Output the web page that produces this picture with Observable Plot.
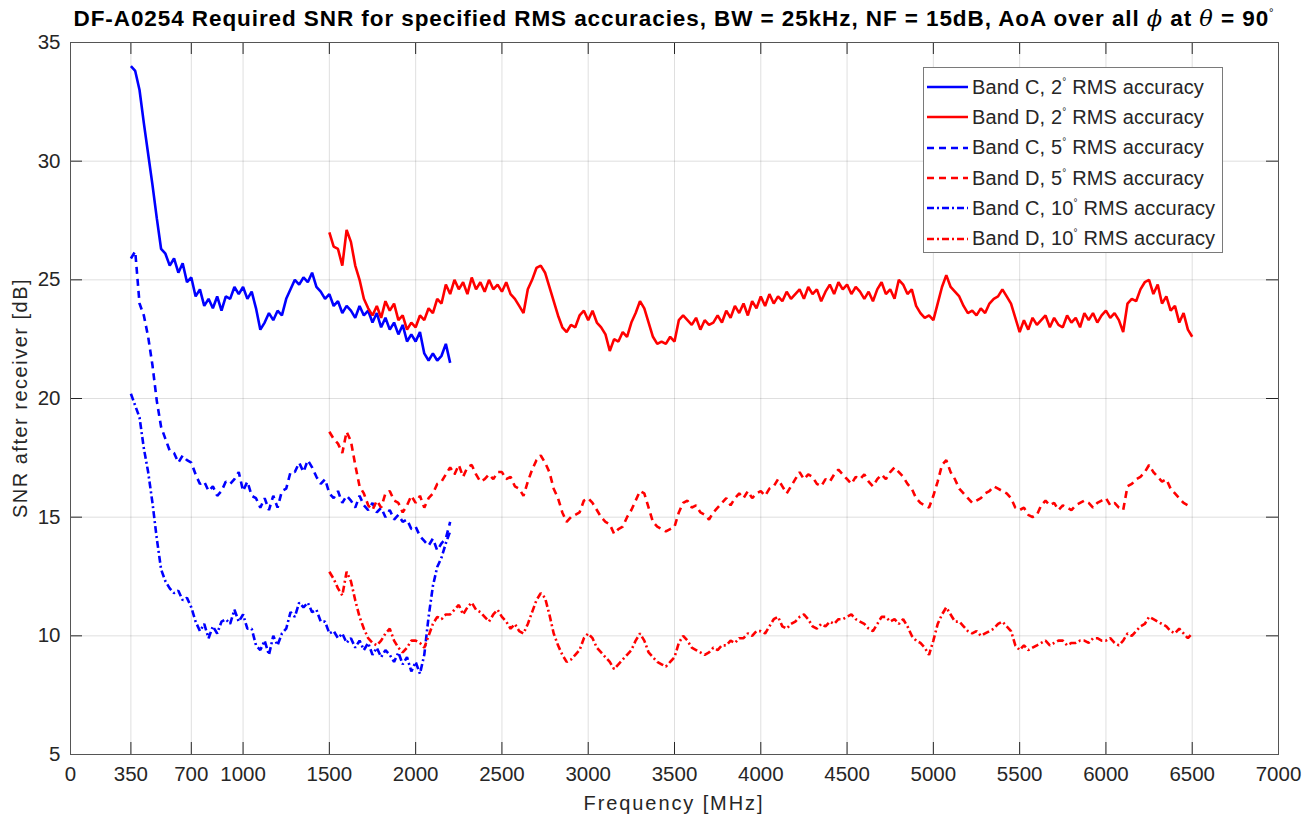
<!DOCTYPE html>
<html>
<head>
<meta charset="utf-8">
<script src="https://cdn.jsdelivr.net/npm/d3@7"></script>
<script src="https://cdn.jsdelivr.net/npm/@observablehq/plot@0.6"></script>
<style>
  body { margin: 0; background: #fff; }
  #wrap { position: relative; width: 1309px; height: 819px; background: #fff; font-family: "Liberation Sans", Arial, sans-serif; color: #262626; overflow: hidden; }
  #title { position: absolute; left: 70px; width: 1208px; top: 5px; text-align: center; font-weight: bold; font-size: 22.5px; letter-spacing: 0.92px; color: #000; white-space: nowrap; }
  #title i { font-family: "DejaVu Serif", "Liberation Serif", serif; font-weight: normal; font-style: italic; }
  #title sup, #legend sup { font-size: 0.5em; vertical-align: 0.9em; font-weight: normal; }
  #chart { position: absolute; left: 0; top: 32px; }
  #ylabel { position: absolute; left: 20px; top: 398px; transform: translate(-50%, -50%) rotate(-90deg); font-size: 20px; letter-spacing: 1.5px; white-space: nowrap; }
  #xlabel { position: absolute; left: 674px; top: 803px; transform: translate(-50%, -50%); font-size: 20px; letter-spacing: 1.9px; white-space: nowrap; }
  #legend { position: absolute; left: 923px; top: 67px; width: 300px; height: 186px; border: 1px solid #7a7a7a; background: #fff; box-sizing: border-box; padding-top: 4px; }
  .row { height: 30.3px; display: flex; align-items: center; font-size: 20px; letter-spacing: 0.15px; white-space: nowrap; }
  .row svg { margin-left: 3px; margin-right: 4px; flex: none; }
</style>
</head>
<body>
<div id="wrap">
  <div id="title">DF-A0254 Required SNR for specified RMS accuracies, BW = 25kHz, NF = 15dB, AoA over all <i>ϕ</i> at <i>θ</i> = 90<sup>°</sup></div>
  <div id="chart"></div>
  <div id="ylabel">SNR after receiver [dB]</div>
  <div id="xlabel">Frequency [MHz]</div>
  <div id="legend"></div>
</div>
<script>
// ---- tick labels ----
const xTicks = [0, 350, 700, 1000, 1500, 2000, 2500, 3000, 3500, 4000, 4500, 5000, 5500, 6000, 6500, 7000];
const yTicks = [5, 10, 15, 20, 25, 30, 35];

// ---- frequency grids (MHz) ----
const freqC = d3.range(350, 2201, 25);   // Band C: 350 .. 2200
const freqD = d3.range(1500, 6501, 25);  // Band D: 1500 .. 6500

// ---- Band C series (dB) ----
const bandC2 = [
  34.0,33.8,33.0,31.6,30.3,29.0,27.6,26.3,26.1,25.6,25.9,25.3,25.7,24.9,25.1,24.3,24.6,23.9,24.2,23.8,
  24.3,23.7,24.3,24.2,24.7,24.4,24.7,24.2,24.5,23.8,22.9,23.2,23.6,23.3,23.7,23.5,24.2,24.6,25.0,24.8,
  25.1,24.9,25.3,24.7,24.5,24.2,24.4,23.9,24.1,23.6,23.9,23.7,23.4,23.9,23.5,23.7,23.2,23.6,23.0,23.4,
  22.9,23.2,22.7,23.1,22.4,22.7,22.4,22.8,21.9,21.6,21.9,21.6,21.8,22.3,21.5
];
const bandC5 = [
  25.9,26.2,24.0,23.5,22.6,21.4,19.9,18.8,18.3,17.8,17.7,17.3,17.6,17.4,17.3,16.8,16.4,16.5,16.1,16.3,
  15.9,16.1,16.5,16.4,16.6,16.9,16.1,16.5,15.9,15.8,15.4,15.8,15.3,15.9,15.4,16.1,16.2,16.9,16.9,17.3,
  16.9,17.4,17.1,16.7,16.4,16.6,16.0,15.8,16.1,15.6,15.9,15.7,15.4,15.9,15.5,15.3,15.6,15.2,15.4,15.0,
  15.3,14.9,15.1,14.8,14.9,14.5,14.6,14.2,14.0,13.8,14.1,13.6,13.9,14.1,14.8
];
const bandC10 = [
  20.2,19.7,19.2,17.9,16.9,15.6,14.1,12.8,12.3,12.0,11.8,11.9,11.5,11.6,11.2,10.6,10.2,10.5,9.9,10.4,
  10.1,10.6,10.7,10.5,11.1,10.6,10.9,10.3,10.3,9.6,9.4,9.8,9.2,10.0,9.6,10.1,10.3,11.0,10.8,11.4,
  11.2,11.4,11.0,11.1,10.6,10.6,10.1,10.2,9.9,10.1,9.7,9.9,9.5,9.8,9.4,9.7,9.2,9.5,9.1,9.4,
  9.2,8.9,9.3,8.8,9.1,8.5,8.9,8.4,9.2,10.8,12.1,12.9,13.3,13.9,14.4
];

// ---- Band D series (dB) ----
const bandD2 = [
  27.0,26.4,26.3,25.6,27.1,26.6,25.6,25.0,24.2,23.8,23.5,23.9,23.4,24.1,23.7,24.0,23.3,23.5,22.9,23.2,
  23.0,23.5,23.3,23.8,23.6,24.2,24.0,24.8,24.4,25.0,24.6,24.9,24.4,25.1,24.6,24.9,24.5,25.0,24.6,24.8,
  24.5,24.9,24.4,24.2,23.9,23.6,24.6,25.0,25.5,25.6,25.3,24.7,24.1,23.5,23.0,22.8,23.1,23.0,23.5,23.7,
  23.3,23.7,23.2,23.0,22.7,22.0,22.5,22.4,22.8,22.6,23.2,23.6,24.1,23.8,23.2,22.6,22.3,22.4,22.3,22.6,
  22.4,23.3,23.5,23.3,23.1,23.4,22.9,23.3,23.1,23.2,23.5,23.2,23.7,23.4,23.9,23.6,24.0,23.5,24.1,23.8,
  24.3,23.9,24.4,24.0,24.3,24.1,24.5,24.2,24.4,24.6,24.2,24.7,24.4,24.6,24.1,24.5,24.8,24.4,24.9,24.6,
  24.8,24.4,24.7,24.5,24.2,24.5,24.1,24.6,24.9,24.4,24.6,24.2,25.0,24.8,24.4,24.6,23.9,23.6,23.4,23.5,
  23.3,24.0,24.7,25.2,24.7,24.5,24.3,23.9,23.6,23.7,23.5,23.8,23.6,24.0,24.2,24.3,24.6,24.3,24.0,23.4,
  22.8,23.3,22.9,23.4,23.1,23.3,23.5,23.0,23.4,23.1,23.0,23.5,23.2,23.4,23.0,23.6,23.3,23.6,23.2,23.5,
  23.7,23.4,23.6,23.3,22.8,24.0,24.2,24.1,24.6,24.9,25.0,24.4,24.8,24.0,24.3,23.7,23.9,23.2,23.6,22.9,
  22.6
];
const bandD5 = [
  18.6,18.3,18.1,17.7,18.6,18.2,17.2,16.3,16.0,15.5,15.3,15.7,15.4,16.0,16.1,15.7,15.6,15.2,15.5,15.9,
  15.6,15.9,15.4,15.8,16.0,16.4,16.5,16.8,17.1,16.8,17.2,16.7,17.1,17.2,16.8,16.5,16.6,16.8,16.6,16.9,
  16.9,16.6,16.7,16.3,16.2,15.9,16.5,17.0,17.4,17.6,17.3,16.9,16.2,15.8,15.2,14.8,15.0,15.1,15.2,15.7,
  15.8,15.6,15.3,15.0,14.8,14.7,14.3,14.5,14.6,15.0,15.3,15.7,16.1,16.0,15.4,14.8,14.6,14.5,14.4,14.5,
  14.6,15.2,15.6,15.7,15.4,15.5,15.2,15.1,14.9,15.2,15.4,15.6,15.8,15.5,15.8,16.0,15.8,16.1,15.8,16.0,
  16.1,15.9,16.2,16.3,16.6,16.3,16.0,16.3,16.6,16.9,16.6,16.8,16.7,16.4,16.3,16.6,16.5,16.8,17.0,16.8,
  16.6,16.4,16.7,16.6,16.8,16.5,16.3,16.6,16.8,16.6,16.9,17.1,16.9,16.7,16.4,16.2,15.8,15.6,15.5,15.4,
  15.9,16.5,17.2,17.4,16.9,16.6,16.2,16.0,15.8,15.6,15.7,15.8,16.0,16.1,16.3,16.2,16.1,16.0,15.8,15.4,
  15.3,15.4,15.1,15.0,15.1,15.5,15.7,15.5,15.6,15.3,15.5,15.4,15.3,15.5,15.6,15.7,15.6,15.4,15.6,15.7,
  15.8,15.5,15.6,15.4,15.3,16.3,16.4,16.6,16.7,16.9,17.2,16.9,16.7,16.5,16.6,16.2,16.0,15.8,15.6,15.5,
  15.5
];
const bandD10 = [
  12.7,12.4,12.0,11.7,12.7,12.3,11.5,10.8,10.3,9.9,9.7,9.6,9.8,10.1,10.3,9.8,9.5,9.3,9.5,9.8,
  9.8,9.7,9.5,10.0,10.5,10.8,10.7,10.9,10.9,11.1,11.3,10.9,11.2,11.4,11.1,11.0,10.8,10.6,10.9,11.1,
  10.8,10.6,10.3,10.5,10.2,10.1,10.5,11.0,11.5,11.8,11.6,10.9,10.1,9.6,9.2,8.9,9.0,9.2,9.4,9.9,
  10.1,9.9,9.5,9.3,9.1,8.9,8.6,8.8,9.0,9.2,9.4,9.8,10.1,9.8,9.3,9.1,8.9,8.8,8.7,8.9,
  9.1,9.7,10.0,9.8,9.5,9.4,9.3,9.2,9.3,9.5,9.4,9.6,9.6,9.8,9.7,9.9,9.9,10.1,10.0,10.2,
  10.2,10.1,10.4,10.7,10.8,10.4,10.3,10.5,10.6,10.8,10.9,10.7,10.4,10.3,10.5,10.4,10.6,10.5,10.7,10.7,
  10.8,10.9,10.7,10.6,10.5,10.3,10.2,10.5,10.8,10.8,10.6,10.7,10.5,10.7,10.4,10.0,9.8,9.7,9.5,9.2,
  9.8,10.5,10.9,11.2,10.9,10.6,10.6,10.4,10.2,10.1,10.2,10.0,10.1,10.2,10.3,10.5,10.6,10.4,10.2,9.6,
  9.4,9.6,9.4,9.5,9.6,9.7,9.8,9.6,9.7,9.8,9.8,9.6,9.7,9.7,9.8,9.8,9.7,9.9,9.9,9.8,
  9.8,9.9,9.7,9.6,9.8,10.1,10.0,10.2,10.4,10.5,10.8,10.7,10.6,10.5,10.4,10.2,10.1,10.3,10.1,9.9,
  10.1
];

// ---- series definitions (legend order) ----
const seriesLabels = ["Band C, 2", "Band D, 2", "Band C, 5", "Band D, 5", "Band C, 10", "Band D, 10"];
const seriesColors = ["#0000ff", "#ff0000", "#0000ff", "#ff0000", "#0000ff", "#ff0000"];
const seriesDash   = [null, null, "7,5", "7,5", "7,3,2,3", "7,3,2,3"];
const seriesValues = [bandC2, bandD2, bandC5, bandD5, bandC10, bandD10];
const seriesFreq   = [freqC, freqD, freqC, freqD, freqC, freqD];

const W = 1309, H = 787, mt = 10, mb = 65, ml = 70, mr = 31;
const innerH = H - mt - mb, innerW = W - ml - mr, tickLen = 12;
const axisColor = "#262626";

const lineMarks = seriesValues.map((vals, k) => {
  const rows = vals.map((v, i) => ({f: seriesFreq[k][i], v}));
  return Plot.line(rows, {
    x: "f", y: "v",
    stroke: seriesColors[k],
    strokeWidth: 2.6,
    strokeDasharray: seriesDash[k] || undefined,
    strokeLinejoin: "miter",
    strokeLinecap: "butt"
  });
});

const chart = Plot.plot({
  width: W, height: H,
  marginTop: mt, marginBottom: mb, marginLeft: ml, marginRight: mr,
  style: {fontFamily: "'Liberation Sans', Arial, sans-serif", fontSize: "20px", color: axisColor, background: "#fff", overflow: "visible"},
  x: {domain: [0, 7000]},
  y: {domain: [5, 35]},
  marks: [
    Plot.gridX(xTicks, {stroke: axisColor, strokeOpacity: 0.15}),
    Plot.gridY(yTicks, {stroke: axisColor, strokeOpacity: 0.15}),
    ...lineMarks,
    Plot.ruleX(xTicks, {stroke: axisColor, insetTop: innerH - tickLen}),
    Plot.ruleX(xTicks, {stroke: axisColor, insetBottom: innerH - tickLen}),
    Plot.ruleY(yTicks, {stroke: axisColor, insetRight: innerW - tickLen}),
    Plot.ruleY(yTicks, {stroke: axisColor, insetLeft: innerW - tickLen}),
    Plot.frame({stroke: "#555", strokeWidth: 1}),
    Plot.axisX(xTicks, {tickSize: 0, tickPadding: 12, tickFormat: d => String(d), label: null, fontSize: 20.5}),
    Plot.axisY(yTicks, {tickSize: 0, tickPadding: 10, tickFormat: d => String(d), label: null, fontSize: 20.5})
  ]
});
document.getElementById("chart").appendChild(chart);

// ---- legend ----
const legend = document.getElementById("legend");
seriesLabels.forEach((lab, k) => {
  const row = document.createElement("div");
  row.className = "row";
  const dash = seriesDash[k] ? `stroke-dasharray="${seriesDash[k]}"` : "";
  row.innerHTML = `<svg width="41" height="6"><line x1="0" y1="3" x2="41" y2="3" stroke="${seriesColors[k]}" stroke-width="2.5" ${dash}/></svg><span>${lab}<sup>°</sup> RMS accuracy</span>`;
  legend.appendChild(row);
});
</script>
</body>
</html>
